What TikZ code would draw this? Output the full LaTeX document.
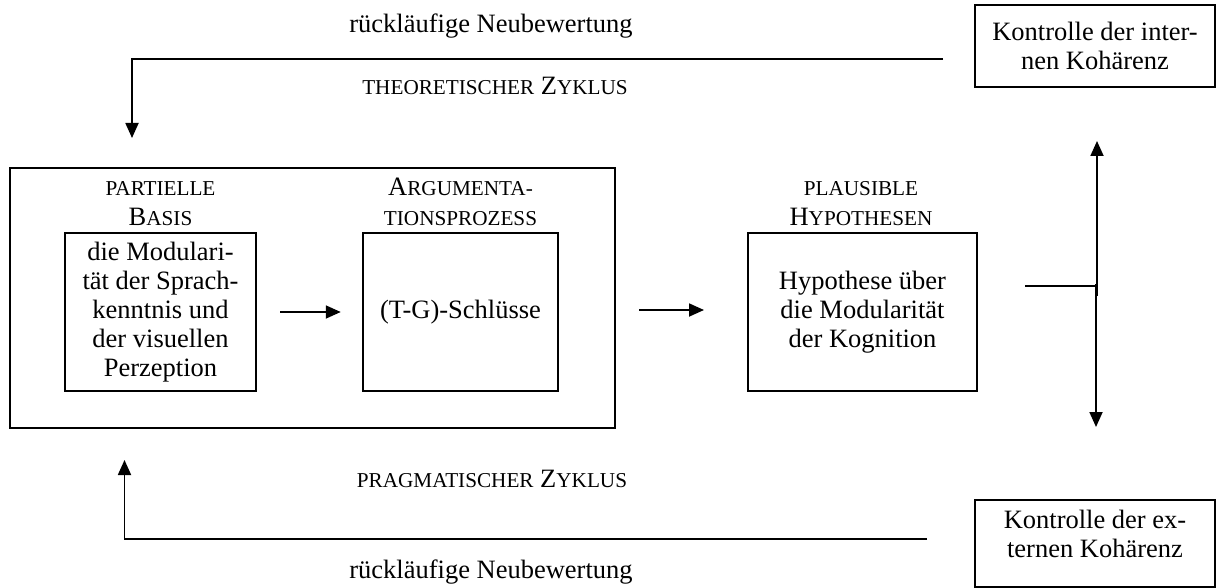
\documentclass[tikz,border=0pt]{standalone}
\usepackage{fontspec}
\setmainfont{Liberation Serif}
\usetikzlibrary{arrows.meta}
\newcommand\kap[1]{{\fontsize{21.2}{29}\selectfont #1}}
\begin{document}
\begin{tikzpicture}[x=1pt,y=-1pt,
  every node/.style={font=\fontsize{26.5}{29}\selectfont, inner sep=0pt},
  boxst/.style={draw, line width=2.5pt, align=center},
  lbl/.style={align=center, font=\fontsize{26.5}{30}\selectfont},
  conn/.style={line width=1.8pt},
  arr/.style={conn, -{Triangle[width=13pt,length=15pt]}}]
\fill[white] (0,0) rectangle (1217,588);
\useasboundingbox (0,0) rectangle (1217,588);

% boxes
\node[boxst, minimum width=605pt, minimum height=260pt] (big) at (312.5,298) {};
\node[boxst, minimum width=191pt, minimum height=158pt] (lbox) at (160.5,312)
  {die Modulari-\\tät der Sprach-\\kenntnis und\\der visuellen\\Perzeption};
\node[boxst, minimum width=195pt, minimum height=158pt] (mbox) at (460.5,312) {(T-G)-Schlüsse};
\node[boxst, minimum width=229pt, minimum height=158pt] (hyp) at (862.5,312)
  {Hypothese über\\die Modularität\\der Kognition};
\node[boxst, minimum width=240pt, minimum height=82pt] (kint) at (1095,46)
  {Kontrolle der inter-\\nen Kohärenz};
\node[boxst, minimum width=240pt, minimum height=87pt] (kext) at (1095,543.5) {};
\node[align=center] (kexttxt) at (1095,534) {Kontrolle der ex-\\ternen Kohärenz};

% headings
\node[lbl] (partiell) at (160.5,204) {\kap{PARTIELLE}\\B\kap{ASIS}};
\node[lbl] (argu) at (460.5,202) {A\kap{RGUMENTA-}\\\kap{TIONSPROZESS}};
\node[lbl] (plaus) at (861,204) {\kap{PLAUSIBLE}\\H\kap{YPOTHESEN}};

% cycle labels
\node[anchor=base] (rtop) at (491,33) {rückläufige Neubewertung};
\node[anchor=base] (theo) at (495,95) {\kap{THEORETISCHER} Z\kap{YKLUS}};
\node[anchor=base] (prag) at (492,487) {\kap{PRAGMATISCHER} Z\kap{YKLUS}};
\node[anchor=base] (rbot) at (491,578) {rückläufige Neubewertung};

% connectors
\coordinate (tstart) at (943,59);
\coordinate (ttip) at (132,138);
\draw[arr] (tstart) -| (ttip);
\coordinate (bstart) at (927,539);
\coordinate (btip) at (124.5,460);
\draw[arr] (bstart) -| (btip);

\draw[arr, shorten <=23pt, shorten >=21pt] (lbox.east) -- (mbox.west);
\coordinate (a2s) at (639,310);
\coordinate (a2e) at (704,310);
\draw[arr] (a2s) -- (a2e);

\coordinate (vup) at (1097,141);
\coordinate (vdown) at (1096,427);
\coordinate (jtop) at (1097,296);
\coordinate (jbot) at (1096,284);
\draw[arr] (jtop) -- (vup);
\draw[arr] (jbot) -- (vdown);
\coordinate (stub) at (1025,286);
\draw[conn] (stub) -- (stub -| vup);
\end{tikzpicture}
\end{document}
